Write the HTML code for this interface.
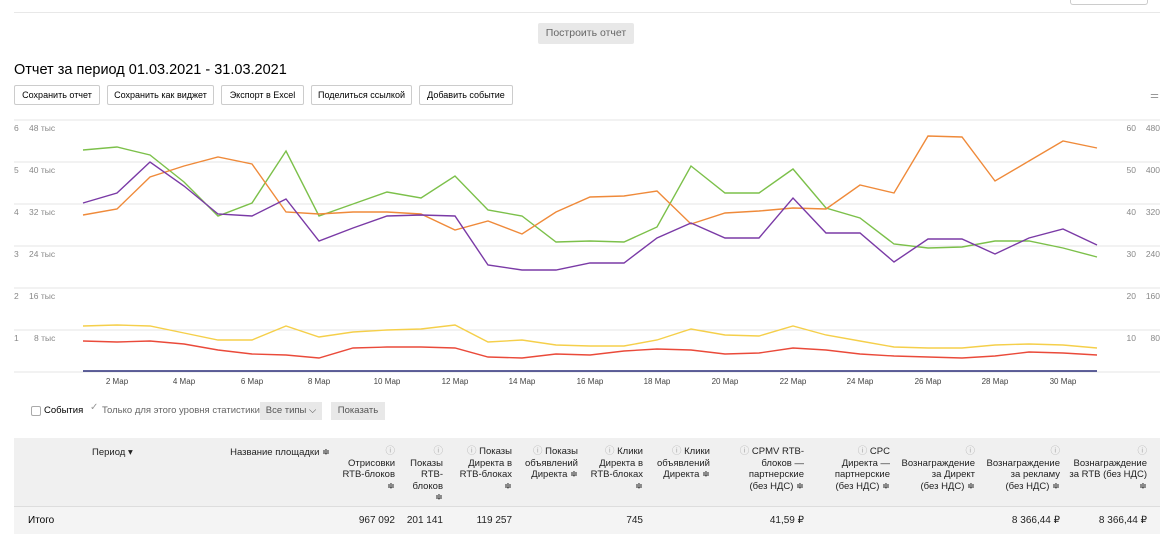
<!DOCTYPE html>
<html><head><meta charset="utf-8"><style>
body{margin:0;width:1172px;height:535px;overflow:hidden;background:#fff;font-family:"Liberation Sans",sans-serif;color:#000;position:relative}
.a{position:absolute}
.btn{position:absolute;top:85px;height:18px;border:1px solid #ccc;border-radius:2px;font-size:9px;line-height:18px;text-align:center;background:#fff}
.th{position:absolute;font-size:9.5px;color:#222;text-align:right;line-height:11.5px}
.q{color:#aaa}
</style></head><body>
<div class="a" style="left:14px;top:12px;width:1146px;height:1px;background:#e8e8e8"></div>
<div class="a" style="left:1070px;top:0;width:76px;height:4px;border:1px solid #ccc;border-top:none;border-radius:0 0 3px 3px"></div>
<div class="a" style="left:538px;top:23px;width:96px;height:21px;background:#e8e8e8;border-radius:2px;font-size:10.5px;color:#666;text-align:center;line-height:21px">Построить отчет</div>
<div class="a" style="left:14px;top:62px;font-size:14.5px">Отчет за период 01.03.2021 - 31.03.2021</div>
<div class="btn" style="left:14px;width:84px">Сохранить отчет</div>
<div class="btn" style="left:107px;width:105px">Сохранить как виджет</div>
<div class="btn" style="left:221px;width:81px">Экспорт в Excel</div>
<div class="btn" style="left:311px;width:99px">Поделиться ссылкой</div>
<div class="btn" style="left:419px;width:92px">Добавить событие</div>
<div class="a" style="left:1150px;top:90px;font-size:10px;color:#999">⚌</div>
<svg class="a" style="left:0;top:0" width="1172" height="400" font-family="Liberation Sans" font-size="8.5" fill="#777">
<g stroke="#e6e6e6" stroke-width="1"><line x1="14" x2="1160" y1="120" y2="120"/><line x1="14" x2="1160" y1="162" y2="162"/><line x1="14" x2="1160" y1="204" y2="204"/><line x1="14" x2="1160" y1="246" y2="246"/><line x1="14" x2="1160" y1="288" y2="288"/><line x1="14" x2="1160" y1="330" y2="330"/><line x1="14" x2="1160" y1="372" y2="372"/></g>
<g fill="#888"><text x="14" y="131">6</text><text x="29" y="131">48 тыс</text><text x="14" y="173">5</text><text x="29" y="173">40 тыс</text><text x="14" y="215">4</text><text x="29" y="215">32 тыс</text><text x="14" y="257">3</text><text x="29" y="257">24 тыс</text><text x="14" y="299">2</text><text x="29" y="299">16 тыс</text><text x="14" y="341">1</text><text x="34" y="341">8 тыс</text>
<g text-anchor="end"><text x="1136" y="131">60</text><text x="1160" y="131">480</text><text x="1136" y="173">50</text><text x="1160" y="173">400</text><text x="1136" y="215">40</text><text x="1160" y="215">320</text><text x="1136" y="257">30</text><text x="1160" y="257">240</text><text x="1136" y="299">20</text><text x="1160" y="299">160</text><text x="1136" y="341">10</text><text x="1160" y="341">80</text></g></g>
<g fill="#444" text-anchor="middle" font-size="8"><text x="117" y="384">2 Мар</text><text x="184" y="384">4 Мар</text><text x="252" y="384">6 Мар</text><text x="319" y="384">8 Мар</text><text x="387" y="384">10 Мар</text><text x="455" y="384">12 Мар</text><text x="522" y="384">14 Мар</text><text x="590" y="384">16 Мар</text><text x="657" y="384">18 Мар</text><text x="725" y="384">20 Мар</text><text x="793" y="384">22 Мар</text><text x="860" y="384">24 Мар</text><text x="928" y="384">26 Мар</text><text x="995" y="384">28 Мар</text><text x="1063" y="384">30 Мар</text></g>
<g fill="none" stroke-width="1.4">
<line x1="83" x2="1097" y1="371" y2="371" stroke="#2b2f7a"/>
<polyline stroke="#7cc04a" points="83,150 117,147 150,155 184,182 218,216 252,203 286,151 319,216 353,204 387,192 421,198 455,176 488,210 522,216 556,242 590,241 624,242 657,227 691,166 725,193 759,193 793,169 826,208 860,218 894,244 928,248 962,247 995,241 1029,241 1063,248 1097,257"/>
<polyline stroke="#ef8a3a" points="83,215 117,209 150,177 184,166 218,157 252,164 286,212 319,214 353,212 387,212 421,214 455,230 488,221 522,234 556,212 590,197 624,196 657,191 691,224 725,213 759,211 793,208 826,209 860,185 894,193 928,136 962,137 995,181 1029,161 1063,141 1097,148"/>
<polyline stroke="#7a3aa6" points="83,203 117,193 150,162 184,186 218,214 252,216 286,199 319,241 353,228 387,216 421,215 455,216 488,265 522,270 556,270 590,263 624,263 657,238 691,223 725,238 759,238 793,198 826,233 860,233 894,262 928,239 962,239 995,254 1029,238 1063,229 1097,245"/>
<polyline stroke="#f5cf4a" points="83,326 117,325 150,326 184,333 218,340 252,340 286,326 319,337 353,332 387,330 421,329 455,325 488,342 522,340 556,345 590,346 624,346 657,340 691,329 725,335 759,336 793,326 826,335 860,341 894,347 928,348 962,348 995,345 1029,344 1063,345 1097,348"/>
<polyline stroke="#ea4a3a" points="83,341 117,342 150,341 184,344 218,350 252,354 286,355 319,358 353,348 387,347 421,347 455,348 488,357 522,358 556,354 590,355 624,351 657,349 691,350 725,354 759,353 793,348 826,350 860,354 894,356 928,357 962,358 995,356 1029,352 1063,353 1097,355"/>
</g></svg>
<div class="a" style="left:31px;top:406px;width:8px;height:8px;border:1px solid #aaa;border-radius:2px"></div>
<div class="a" style="left:44px;top:405px;font-size:9.5px">События</div>
<div class="a" style="left:90px;top:402px;font-size:10px;color:#999">✓</div>
<div class="a" style="left:102px;top:405px;font-size:9.5px;color:#666">Только для этого уровня статистики</div>
<div class="a" style="left:260px;top:402px;width:62px;height:18px;background:#e8e8e8;font-size:9.5px;color:#555;line-height:18px;text-align:center">Все типы ⌵</div>
<div class="a" style="left:331px;top:402px;width:54px;height:18px;background:#e8e8e8;font-size:9.5px;color:#555;line-height:18px;text-align:center">Показать</div>
<div class="a" style="left:14px;top:438px;width:1146px;height:68px;background:#f0f0f0"></div>
<div class="a" style="left:14px;top:506px;width:1146px;height:1px;background:#ddd"></div>
<div class="a" style="left:14px;top:507px;width:1146px;height:27px;background:#f4f4f4"></div>
<div class="th" style="left:92px;top:447px;text-align:left">Период ▾</div>
<div class="th" style="left:230px;top:447px;width:100px">Название площадки ≑</div>
<div class="th" style="left:335px;top:446px;width:60px"><span class="q">ⓘ</span><br>Отрисовки<br>RTB-блоков<br>≑</div>
<div class="th" style="left:395px;top:446px;width:48px"><span class="q">ⓘ</span><br>Показы<br>RTB-<br>блоков<br>≑</div>
<div class="th" style="left:450px;top:446px;width:62px"><span class="q">ⓘ</span> Показы<br>Директа в<br>RTB-блоках<br>≑</div>
<div class="th" style="left:515px;top:446px;width:63px"><span class="q">ⓘ</span> Показы<br>объявлений<br>Директа ≑</div>
<div class="th" style="left:580px;top:446px;width:63px"><span class="q">ⓘ</span> Клики<br>Директа в<br>RTB-блоках<br>≑</div>
<div class="th" style="left:650px;top:446px;width:60px"><span class="q">ⓘ</span> Клики<br>объявлений<br>Директа ≑</div>
<div class="th" style="left:720px;top:446px;width:84px"><span class="q">ⓘ</span> CPMV RTB-<br>блоков —<br>партнерские<br>(без НДС) ≑</div>
<div class="th" style="left:810px;top:446px;width:80px"><span class="q">ⓘ</span> CPC<br>Директа —<br>партнерские<br>(без НДС) ≑</div>
<div class="th" style="left:895px;top:446px;width:80px"><span class="q">ⓘ</span><br>Вознаграждение<br>за Директ<br>(без НДС) ≑</div>
<div class="th" style="left:980px;top:446px;width:80px"><span class="q">ⓘ</span><br>Вознаграждение<br>за рекламу<br>(без НДС) ≑</div>
<div class="th" style="left:1065px;top:446px;width:82px"><span class="q">ⓘ</span><br>Вознаграждение<br>за RTB (без НДС)<br>≑</div>
<div class="a" style="left:28px;top:515px;font-size:10px">Итого</div>
<div class="th" style="left:335px;top:515px;width:60px;font-size:10px">967 092</div>
<div class="th" style="left:395px;top:515px;width:48px;font-size:10px">201 141</div>
<div class="th" style="left:450px;top:515px;width:62px;font-size:10px">119 257</div>
<div class="th" style="left:580px;top:515px;width:63px;font-size:10px">745</div>
<div class="th" style="left:720px;top:515px;width:84px;font-size:10px">41,59 ₽</div>
<div class="th" style="left:980px;top:515px;width:80px;font-size:10px">8 366,44 ₽</div>
<div class="th" style="left:1065px;top:515px;width:82px;font-size:10px">8 366,44 ₽</div>
</body></html>
